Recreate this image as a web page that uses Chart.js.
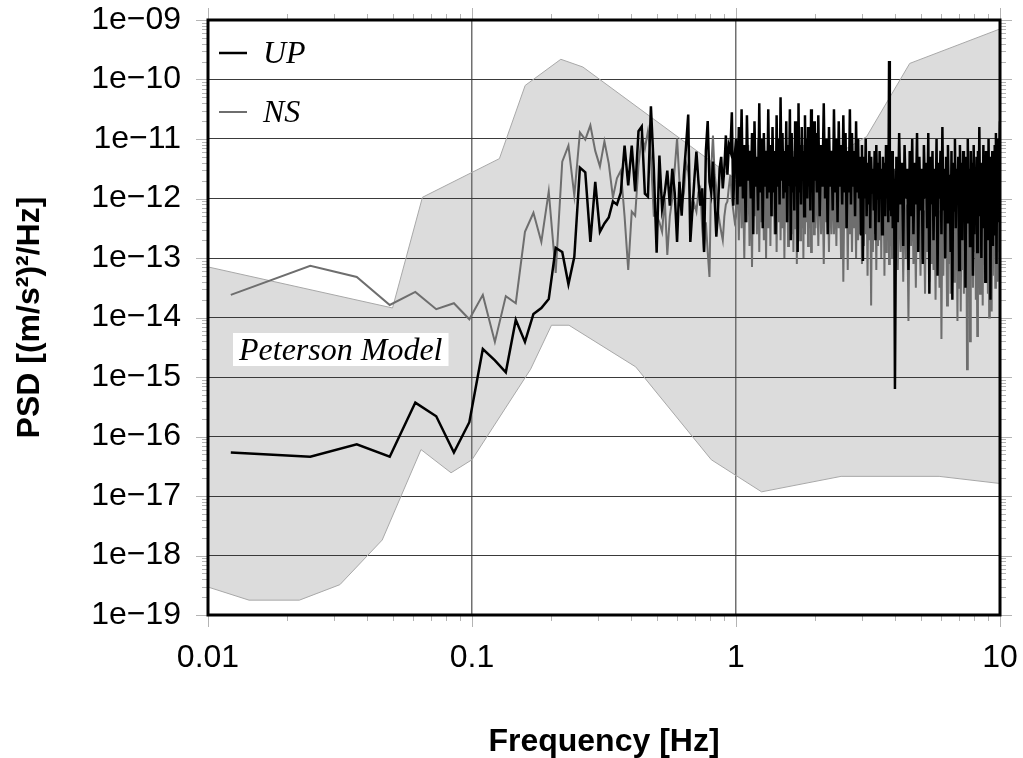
<!DOCTYPE html>
<html>
<head>
<meta charset="utf-8">
<title>PSD</title>
<script src="https://cdn.jsdelivr.net/npm/chart.js@4.4.1/dist/chart.umd.min.js"></script>
<style>
  html, body { margin: 0; padding: 0; background: #fff; }
  canvas { display: block; }
</style>
</head>
<body>
<canvas id="psd" width="1023" height="758"></canvas>
<script>
// frequency bins [Hz]
var freqLow = [
  0.0122,0.0244,0.0366,0.0488,0.0610,0.0732,0.0854,0.0977,0.1099,0.1221,
  0.1343,0.1465,0.1587,0.1709,0.1831,0.1953,0.2075,0.2197,0.2319,0.2441,
  0.2563,0.2686,0.2808,0.2930,0.3052,0.3174,0.3296,0.3418,0.3540,0.3662,
  0.3784,0.3906,0.4028,0.4150,0.4272,0.4395,0.4517,0.4639,0.4761,0.4883,
  0.5005,0.5127,0.5249,0.5371,0.5493,0.5615,0.5737,0.5859,0.5981,0.6104,
  0.6226,0.6348,0.6470,0.6592,0.6714,0.6836,0.6958,0.7080,0.7202,0.7324,
  0.7446,0.7568,0.7690,0.7813,0.7935,0.8057,0.8179,0.8301,0.8423,0.8545,
  0.8667,0.8789,0.8911,0.9033,0.9155,0.9277,0.9399,0.9521,0.9644,0.9766,0.9888
];
var freqHigh = [
  1.0000,1.0125,1.0250,1.0375,1.0500,1.0625,1.0750,1.0875,1.1000,1.1125,
  1.1250,1.1375,1.1500,1.1625,1.1750,1.1875,1.2000,1.2125,1.2250,1.2375,
  1.2500,1.2625,1.2750,1.2875,1.3000,1.3125,1.3250,1.3375,1.3500,1.3625,
  1.3750,1.3875,1.4000,1.4125,1.4250,1.4375,1.4500,1.4625,1.4750,1.4875,
  1.5000,1.5125,1.5250,1.5375,1.5500,1.5625,1.5750,1.5875,1.6000,1.6125,
  1.6250,1.6375,1.6500,1.6625,1.6750,1.6875,1.7000,1.7125,1.7250,1.7375,
  1.7500,1.7625,1.7750,1.7875,1.8000,1.8125,1.8250,1.8375,1.8500,1.8625,
  1.8750,1.8875,1.9000,1.9125,1.9250,1.9375,1.9500,1.9625,1.9750,1.9875,
  2.000,2.025,2.050,2.075,2.100,2.125,2.150,2.175,2.200,2.225,
  2.250,2.275,2.300,2.325,2.350,2.375,2.400,2.425,2.450,2.475,
  2.500,2.525,2.550,2.575,2.600,2.625,2.650,2.675,2.700,2.725,
  2.750,2.775,2.800,2.825,2.850,2.875,2.900,2.925,2.950,2.975,
  3.000,3.025,3.050,3.075,3.100,3.125,3.150,3.175,3.200,3.225,
  3.250,3.275,3.300,3.325,3.350,3.375,3.400,3.425,3.450,3.475,
  3.500,3.525,3.550,3.575,3.600,3.625,3.650,3.675,3.700,3.725,
  3.750,3.775,3.800,3.825,3.850,3.875,3.900,3.925,3.950,3.975,
  4.00,4.05,4.10,4.15,4.20,4.25,4.30,4.35,4.40,4.45,
  4.50,4.55,4.60,4.65,4.70,4.75,4.80,4.85,4.90,4.95,
  5.00,5.05,5.10,5.15,5.20,5.25,5.30,5.35,5.40,5.45,
  5.50,5.55,5.60,5.65,5.70,5.75,5.80,5.85,5.90,5.95,
  6.00,6.05,6.10,6.15,6.20,6.25,6.30,6.35,6.40,6.45,
  6.50,6.55,6.60,6.65,6.70,6.75,6.80,6.85,6.90,6.95,
  7.00,7.05,7.10,7.15,7.20,7.25,7.30,7.35,7.40,7.45,
  7.50,7.55,7.60,7.65,7.70,7.75,7.80,7.85,7.90,7.95,
  8.00,8.05,8.10,8.15,8.20,8.25,8.30,8.35,8.40,8.45,
  8.50,8.55,8.60,8.65,8.70,8.75,8.80,8.85,8.90,8.95,
  9.00,9.05,9.10,9.15,9.20,9.25,9.30,9.35,9.40,9.45,
  9.50,9.55,9.60,9.65,9.70,9.75,9.80,9.85,9.90,9.95,
  10.00
];

// log10 of PSD, vertical component
var upLow = [
  -16.27,-16.34,-16.13,-16.34,-15.43,-15.66,-16.27,-15.76,-14.53,-14.72,
  -14.92,-14.04,-14.41,-13.94,-13.84,-13.69,-12.83,-12.90,-13.44,-12.98,
  -11.48,-11.56,-12.73,-11.72,-12.56,-12.42,-12.32,-12.05,-12.10,-11.9,
  -11.11,-11.78,-11.11,-11.88,-10.87,-10.79,-11.92,-11.97,-10.45,-11.5,
  -12.91,-11.28,-12.17,-11.9,-11.53,-12.12,-11.5,-11.9,-12.73,-11.72,
  -12.29,-11.6,-11.11,-10.59,-12.73,-12.2,-11.66,-11.21,-11.7,-12.12,
  -11.83,-12.9,-11.2,-10.7,-11.72,-11.9,-11.38,-12.0,-12.64,-12.2,
  -11.5,-11.3,-11.83,-11.5,-10.94,-11.6,-11.11,-11.2,-10.55,-12.12,-11.3
];
var upHigh = [
  -11.0,-12.1,-10.8,-11.8,-10.5,-12.0,-11.1,-12.4,-10.6,-11.7,
  -11.2,-12.0,-10.9,-12.6,-10.7,-11.8,-11.3,-12.2,-10.4,-11.9,
  -11.0,-12.5,-10.9,-11.8,-11.2,-12.0,-10.5,-11.9,-11.1,-12.3,
  -10.8,-11.9,-11.2,-12.6,-10.6,-11.8,-11.0,-12.1,-10.3,-11.7,
  -10.9,-12.0,-11.2,-11.9,-10.7,-12.4,-11.1,-11.8,-10.5,-12.7,
  -10.9,-11.9,-11.3,-12.2,-10.7,-11.8,-11.0,-12.9,-10.4,-11.9,
  -11.1,-12.1,-10.8,-11.7,-11.2,-12.3,-10.6,-11.9,-11.0,-12.0,
  -10.8,-11.8,-11.2,-12.2,-10.5,-11.9,-11.0,-12.4,-10.7,-11.7,
  -10.9,-11.9,-10.6,-12.3,-11.1,-11.8,-10.4,-12.0,-11.0,-12.6,
  -10.8,-11.8,-11.2,-12.2,-10.5,-11.9,-11.0,-12.4,-10.7,-11.8,
  -11.1,-12.1,-10.6,-11.9,-10.9,-12.5,-11.2,-11.9,-10.5,-12.1,
  -10.9,-11.8,-11.2,-12.3,-10.7,-11.9,-11.0,-12.0,-11.3,-12.6,
  -11.1,-13.05,-11.3,-12.0,-11.0,-12.3,-11.4,-12.1,-11.2,-12.5,
  -11.3,-11.9,-11.5,-12.2,-11.2,-12.7,-11.1,-12.0,-11.4,-12.4,
  -11.2,-12.0,-11.5,-12.6,-11.3,-12.1,-11.4,-12.3,-11.1,-12.0,
  -11.3,-12.4,-9.69,-12.2,-11.4,-12.3,-11.2,-12.5,-11.5,-12.1,
  -15.2,-11.3,-12.4,-10.9,-12.1,-11.4,-12.8,-11.1,-12.0,-11.5,
  -13.2,-11.2,-12.3,-11.0,-12.6,-11.4,-12.1,-10.9,-12.9,-11.3,
  -12.2,-11.5,-13.1,-11.1,-12.0,-11.4,-12.5,-10.9,-13.6,-11.3,
  -12.1,-11.2,-12.7,-11.5,-12.3,-11.0,-13.3,-11.4,-12.0,-11.2,
  -12.6,-10.8,-12.2,-11.5,-13.0,-11.3,-12.4,-11.1,-12.1,-11.6,
  -12.9,-11.2,-13.7,-11.4,-12.2,-11.0,-12.5,-11.5,-12.0,-11.3,
  -13.2,-11.1,-12.3,-11.4,-12.7,-11.2,-12.1,-11.6,-13.5,-11.3,
  -12.4,-11.0,-12.0,-11.5,-12.8,-11.2,-12.2,-11.4,-13.3,-11.1,
  -12.6,-11.5,-12.1,-11.3,-12.9,-11.2,-12.3,-10.8,-12.0,-11.4,
  -13.0,-11.6,-12.5,-11.1,-12.2,-11.4,-13.4,-11.2,-12.1,-11.5,
  -12.7,-11.0,-12.3,-11.3,-13.7,-11.5,-12.0,-11.2,-12.8,-11.4,
  -12.2,-11.1,-12.6,-10.9,-13.1,-11.3,-12.1,-11.0,-12.4,-11.2,
  -10.7
];

// log10 of PSD, north-south component
var nsLow = [
  -13.62,-13.13,-13.32,-13.79,-13.57,-13.86,-13.76,-14.03,-13.62,-14.41,
  -13.64,-13.76,-12.56,-12.24,-12.73,-11.88,-13.25,-11.38,-11.11,-11.95,
  -10.89,-11.01,-10.77,-11.2,-11.46,-11.04,-11.41,-11.98,-11.66,-11.53,
  -12.3,-13.20,-12.22,-12.29,-11.45,-10.94,-11.16,-10.87,-11.3,-12.29,
  -12.29,-12.4,-12.56,-12.0,-12.95,-12.3,-12.0,-11.5,-10.99,-11.7,
  -12.12,-11.9,-11.4,-11.55,-12.0,-12.22,-12.1,-12.22,-11.9,-11.83,
  -12.5,-12.9,-12.4,-12.9,-13.32,-11.5,-10.94,-11.6,-11.83,-12.2,
  -12.4,-12.56,-12.7,-12.3,-12.1,-12.05,-11.8,-11.6,-12.0,-12.2,-12.39
];
var nsHigh = [
  -12.3,-11.4,-12.7,-11.2,-12.5,-11.6,-13.0,-11.3,-12.4,-11.1,
  -12.8,-11.5,-13.15,-11.2,-12.3,-11.4,-12.6,-11.0,-12.9,-11.3,
  -12.4,-11.5,-12.7,-11.2,-13.0,-11.4,-12.5,-11.1,-12.8,-11.3,
  -12.3,-11.5,-12.6,-11.2,-12.9,-11.4,-12.4,-11.0,-12.7,-11.3,
  -12.5,-11.2,-13.0,-11.5,-12.4,-11.1,-12.8,-11.3,-12.3,-11.6,
  -12.6,-11.2,-12.9,-11.4,-12.5,-11.0,-13.1,-11.3,-12.4,-11.5,
  -12.7,-11.2,-12.5,-11.4,-13.0,-11.1,-12.6,-11.3,-12.4,-11.5,
  -12.8,-11.2,-12.5,-11.0,-12.9,-11.4,-12.3,-11.2,-12.6,-11.3,
  -12.5,-11.4,-12.8,-11.3,-12.6,-11.6,-13.1,-11.4,-12.4,-11.7,
  -12.9,-11.5,-12.6,-11.3,-12.6,-11.6,-12.8,-11.4,-12.5,-11.7,
  -13.0,-11.5,-13.4,-11.8,-12.5,-11.4,-13.2,-11.6,-12.6,-11.5,
  -12.9,-11.7,-12.5,-11.6,-13.0,-11.5,-12.7,-11.8,-12.6,-11.6,
  -13.1,-11.7,-12.8,-11.5,-12.6,-11.9,-13.3,-11.6,-12.7,-11.8,
  -13.8,-11.7,-12.9,-11.6,-12.6,-11.9,-13.2,-11.7,-12.8,-11.8,
  -12.7,-11.6,-13.0,-11.9,-12.6,-11.7,-13.3,-11.8,-12.9,-11.6,
  -12.7,-11.9,-13.1,-11.7,-12.8,-11.8,-13.0,-11.9,-12.7,-11.8,
  -12.8,-11.9,-13.2,-11.7,-12.9,-12.0,-13.4,-11.8,-13.0,-12.1,
  -14.06,-11.9,-12.8,-11.7,-13.1,-12.0,-13.5,-11.8,-12.9,-12.1,
  -13.3,-11.9,-13.0,-12.2,-13.6,-11.8,-12.9,-12.0,-13.4,-11.9,
  -13.1,-12.1,-13.2,-11.8,-13.7,-12.0,-12.8,-12.2,-13.5,-11.9,
  -14.36,-12.1,-13.3,-11.8,-13.0,-12.0,-13.8,-12.2,-13.1,-11.9,
  -13.6,-12.1,-13.0,-11.8,-13.4,-12.0,-13.2,-12.2,-14.06,-11.9,
  -13.5,-12.1,-13.9,-12.0,-13.2,-11.8,-13.6,-12.2,-13.1,-11.9,
  -14.87,-12.1,-13.4,-12.0,-14.4,-11.8,-13.1,-12.2,-13.5,-12.0,
  -12.9,-12.1,-13.7,-11.9,-14.31,-12.2,-13.0,-12.0,-13.6,-11.8,
  -13.2,-12.1,-13.8,-11.9,-13.1,-12.2,-13.4,-12.0,-13.0,-12.1,
  -13.6,-11.9,-14.0,-12.0,-13.2,-12.2,-13.9,-11.9,-13.3,-12.1,
  -12.8,-12.0,-13.5,-11.9,-13.1,-12.2,-13.4,-12.0,-12.9,-11.9,
  -12.4
];

// Peterson new high / low noise model
var nhnmFreq = [0.01, 0.05, 0.0649, 0.127, 0.159, 0.217, 0.263, 1.25, 3.125, 4.55, 10];
var nhnmLog = [-13.15, -13.84, -11.98, -11.33, -10.10, -9.66, -9.79, -12.0, -10.96, -9.73, -9.15];
var nlnmFreq = [0.01, 0.0143, 0.0222, 0.0316, 0.0457, 0.0641, 0.0833, 0.1, 0.1667, 0.2, 0.233, 0.417, 0.806, 1.25, 2.5, 5.88, 10];
var nlnmLog = [-18.53, -18.75, -18.75, -18.49, -17.74, -16.22, -16.61, -16.39, -14.87, -14.13, -14.13, -14.83, -16.39, -16.93, -16.67, -16.67, -16.79];

var xTicks = [0.01, 0.1, 1, 10];
var yTicks = [1e-19, 1e-18, 1e-17, 1e-16, 1e-15, 1e-14, 1e-13, 1e-12, 1e-11, 1e-10, 1e-9];

var SANS = "'Liberation Sans', Arial, Helvetica, sans-serif";
var SERIF = "'Liberation Serif', 'Times New Roman', serif";

function toPoints(freq, logs) {
  return freq.map(function (f, i) {
    return { x: f, y: Math.pow(10, logs[i]) };
  });
}

function tickValues(min, max) {
  var out = [];
  var e0 = Math.floor(Math.log10(min));
  var e1 = Math.ceil(Math.log10(max));
  for (var e = e0; e <= e1; e++) {
    for (var m = 1; m < 10; m++) {
      var v = m * Math.pow(10, e);
      if (v >= min * 0.999 && v <= max * 1.001) out.push({ v: v, major: m === 1 });
    }
  }
  return out;
}

// tick marks outside the box plus the heavy frame
var framePlugin = {
  id: 'frame',
  afterDraw: function (chart) {
    var ctx = chart.ctx, a = chart.chartArea;
    var xs = chart.scales.x, ys = chart.scales.y;
    ctx.save();
    ctx.strokeStyle = '#b4b4b4';
    ctx.lineWidth = 1;
    ctx.beginPath();
    tickValues(ys.min, ys.max).forEach(function (t) {
      var py = Math.round(ys.getPixelForValue(t.v)) + 0.5;
      var len = t.major ? 12 : 6;
      ctx.moveTo(a.left - len, py); ctx.lineTo(a.left, py);
      ctx.moveTo(a.right, py); ctx.lineTo(a.right + len, py);
    });
    tickValues(xs.min, xs.max).forEach(function (t) {
      var px = Math.round(xs.getPixelForValue(t.v)) + 0.5;
      var len = t.major ? 12 : 6;
      ctx.moveTo(px, a.bottom); ctx.lineTo(px, a.bottom + len);
      ctx.moveTo(px, a.top - len); ctx.lineTo(px, a.top);
    });
    ctx.stroke();
    ctx.strokeStyle = '#000';
    ctx.lineWidth = 3;
    ctx.strokeRect(a.left, a.top, a.right - a.left, a.bottom - a.top);
    ctx.restore();
  }
};

// legend in the upper left corner and the model label
var labelPlugin = {
  id: 'insideLabels',
  afterDatasetsDraw: function (chart) {
    var ctx = chart.ctx, a = chart.chartArea;
    ctx.save();
    ctx.font = 'italic 32px ' + SERIF;
    ctx.textBaseline = 'alphabetic';
    ctx.textAlign = 'left';
    [0, 1].forEach(function (i) {
      var ds = chart.data.datasets[i];
      var ly = a.top + 33 + i * 59;
      ctx.strokeStyle = ds.borderColor;
      ctx.lineWidth = ds.borderWidth;
      ctx.beginPath();
      ctx.moveTo(a.left + 11, ly);
      ctx.lineTo(a.left + 39, ly);
      ctx.stroke();
      ctx.fillStyle = '#000';
      ctx.fillText(ds.label, a.left + 55, ly + 10);
    });

    var text = 'Peterson Model';
    var w = ctx.measureText(text).width;
    ctx.fillStyle = '#fff';
    ctx.fillRect(a.left + 25, a.top + 313, w + 12, 33);
    ctx.fillStyle = '#000';
    ctx.fillText(text, a.left + 31, a.top + 340);
    ctx.restore();
  }
};

function buildChart() {
  if (typeof Chart === 'undefined') {
    console.error('Chart.js is not loaded');
    return null;
  }
  var freqAll = freqLow.concat(freqHigh);

  return new Chart(document.getElementById('psd'), {
    type: 'line',
    data: {
      datasets: [{
        label: 'UP',
        data: toPoints(freqAll, upLow.concat(upHigh)),
        borderColor: '#000000',
        borderWidth: 2.5,
        fill: false
      }, {
        label: 'NS',
        data: toPoints(freqAll, nsLow.concat(nsHigh)),
        borderColor: '#6e6e6e',
        borderWidth: 2,
        fill: false
      }, {
        label: 'NHNM',
        data: toPoints(nhnmFreq, nhnmLog),
        borderColor: '#a8a8a8',
        borderWidth: 1,
        backgroundColor: '#dcdcdc',
        fill: 3
      }, {
        label: 'NLNM',
        data: toPoints(nlnmFreq, nlnmLog),
        borderColor: '#a8a8a8',
        borderWidth: 1,
        fill: false
      }]
    },
    options: {
      responsive: false,
      animation: false,
      devicePixelRatio: 1,
      events: [],
      layout: { padding: { left: 0, right: 23, top: 20, bottom: 0 } },
      elements: {
        point: { radius: 0 },
        line: { tension: 0 }
      },
      plugins: {
        legend: { display: false },
        tooltip: { enabled: false },
        filler: { drawTime: 'beforeDraw' }
      },
      scales: {
        x: {
          type: 'logarithmic',
          min: 0.01,
          max: 10,
          afterFit: function (scale) {
            scale.height = 143;
            scale.paddingLeft = 0;
            scale.paddingRight = 0;
          },
          afterBuildTicks: function (scale) {
            scale.ticks = xTicks.map(function (v) { return { value: v }; });
          },
          grid: { color: '#707070', lineWidth: 1.5, drawTicks: false },
          border: { display: false },
          ticks: {
            autoSkip: false,
            maxRotation: 0,
            padding: 27,
            color: '#000',
            font: { family: SANS, size: 32, lineHeight: 1 },
            callback: function (value) { return String(value); }
          },
          title: {
            display: true,
            text: 'Frequency [Hz]',
            color: '#000',
            padding: { top: 0, bottom: 0 },
            font: { family: SANS, size: 32, weight: 'bold', lineHeight: 1 }
          }
        },
        y: {
          type: 'logarithmic',
          min: 1e-19,
          max: 1e-9,
          afterFit: function (scale) {
            scale.width = 208;
            scale.paddingTop = 0;
            scale.paddingBottom = 0;
          },
          afterBuildTicks: function (scale) {
            scale.ticks = yTicks.map(function (v) { return { value: v }; });
          },
          grid: { color: '#3a3a3a', lineWidth: 1, drawTicks: false },
          border: { display: false },
          ticks: {
            autoSkip: false,
            padding: 27,
            color: '#000',
            font: { family: SANS, size: 32, lineHeight: 1 },
            callback: function (value) {
              var e = -Math.round(Math.log10(value));
              return '1e\u2212' + (e < 10 ? '0' + e : String(e));
            }
          },
          title: {
            display: true,
            text: 'PSD [(m/s\u00b2)\u00b2/Hz]',
            color: '#000',
            padding: { top: 14, bottom: 0 },
            font: { family: SANS, size: 32, weight: 'bold', lineHeight: 1 }
          }
        }
      }
    },
    plugins: [framePlugin, labelPlugin]
  });
}

var psdChart = buildChart();
</script>
</body>
</html>
